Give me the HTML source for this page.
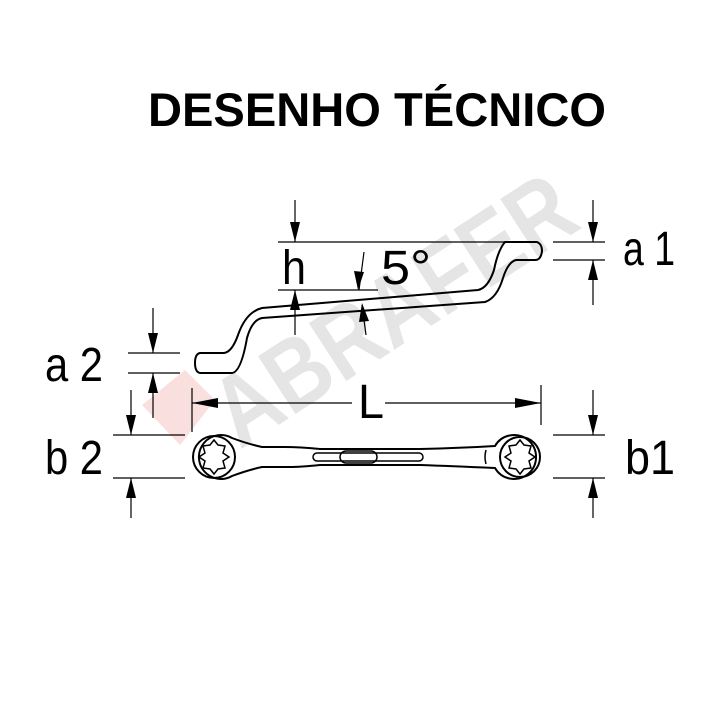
<!DOCTYPE html>
<html><head><style>body{margin:0;background:#fff}svg{display:block}</style></head>
<body>
<svg width="720" height="720" viewBox="0 0 720 720" xmlns="http://www.w3.org/2000/svg" font-family="Liberation Sans, sans-serif">
<rect width="720" height="720" fill="#fff"/>
<g opacity="0.4">
<polygon points="142,405 185,370 215,400 180,445" fill="#f3b0b0"/>
<text x="0" y="0" transform="translate(240,450) rotate(-33)" font-size="100" font-weight="bold" fill="#c0c0c0" textLength="410" lengthAdjust="spacingAndGlyphs">ABRAFER</text>
</g>
<text x="377" y="126" text-anchor="middle" font-size="47" font-weight="bold" fill="#000" textLength="458" lengthAdjust="spacingAndGlyphs">DESENHO TÉCNICO</text>
<g stroke="#000" fill="none" stroke-width="1.2">
<path stroke-width="2" d="M200,353 L224,353 Q232,352 238,335 Q246,312 262,308 L478,290 Q488,288 494,270 Q498,250 505,242 L537,242 Q542,244 542,251 Q541,260 535,260 L516,260 Q508,262 503,278 Q497,298 485,302 L262,318 Q252,320 247,338 Q241,372 232,373 L200,373 Q195,372 195,363 Q195,354 200,353 Z"/>
<line x1="278" y1="242" x2="505" y2="242"/>
<line x1="553" y1="242" x2="605" y2="242"/>
<line x1="553" y1="260" x2="605" y2="260"/>
<line x1="278" y1="290" x2="378" y2="290"/>
<line x1="295" y1="200" x2="295" y2="242"/>
<line x1="295" y1="290" x2="295" y2="335"/>
<line x1="593" y1="200" x2="593" y2="242"/>
<line x1="593" y1="260" x2="593" y2="305"/>
<line x1="364" y1="252" x2="359" y2="290"/>
<line x1="362" y1="305" x2="366" y2="335"/>
<line x1="128" y1="353" x2="180" y2="353"/>
<line x1="128" y1="373" x2="180" y2="373"/>
<line x1="153" y1="308" x2="153" y2="353"/>
<line x1="153" y1="373" x2="153" y2="418"/>
<line x1="192" y1="388" x2="192" y2="432"/>
<line x1="541" y1="385" x2="541" y2="425"/>
<line x1="192" y1="403" x2="352" y2="403"/>
<line x1="385" y1="403" x2="541" y2="403"/>
<line x1="113" y1="435" x2="185" y2="435"/>
<line x1="113" y1="478" x2="185" y2="478"/>
<line x1="553" y1="435" x2="605" y2="435"/>
<line x1="553" y1="478" x2="605" y2="478"/>
<line x1="131" y1="390" x2="131" y2="435"/>
<line x1="131" y1="478" x2="131" y2="518"/>
<line x1="593" y1="390" x2="593" y2="435"/>
<line x1="593" y1="478" x2="593" y2="518"/>
<path stroke-width="2" d="M232,438 A22,22 0 1 0 232,476 Q248,470 262,467 L290,467 Q300,467 320,465 L420,465 Q450,466 495,468 A22,22 0 1 0 495,446 Q460,448 420,449 L320,449 Q300,447 285,447 L262,447 Q248,444 232,438 Z"/>
<circle cx="214" cy="457" r="21" stroke-width="2"/>
<circle cx="520" cy="457" r="20" stroke-width="2"/>
<rect x="313" y="453" width="110" height="8" rx="4" stroke-width="1.5"/>
<rect x="340" y="451" width="37" height="12" rx="6" stroke-width="1.5"/>
<path d="M486,450 Q484,457 486,464" stroke-width="1.5"/>
</g>
<g fill="none" stroke="#000" stroke-width="1.5">
<polygon points="229,457 223,461 225,468 218,469 214,474 210,469 203,468 205,461 199,457 205,453 203,446 210,445 214,440 218,445 225,446 223,453"/>
<polygon points="535,457 529,461 531,468 524,469 520,474 516,469 509,468 511,461 505,457 511,453 509,446 516,445 520,440 524,445 531,446 529,453"/>
</g>
<g fill="#000">
<polygon points="290,222 300,222 295,242"/>
<polygon points="290,310 300,310 295,290"/>
<polygon points="588,222 598,222 593,242"/>
<polygon points="588,280 598,280 593,260"/>
<polygon points="354,271 364,272 358,290"/>
<polygon points="359,322 369,321 362,303"/>
<polygon points="148,333 158,333 153,353"/>
<polygon points="148,393 158,393 153,373"/>
<polygon points="192,403 218,398 218,408"/>
<polygon points="541,403 515,398 515,408"/>
<polygon points="126,415 136,415 131,435"/>
<polygon points="126,498 136,498 131,478"/>
<polygon points="588,415 598,415 593,435"/>
<polygon points="588,498 598,498 593,478"/>
</g>
<g font-size="48" fill="#000">
<text x="282" y="284" textLength="24" lengthAdjust="spacingAndGlyphs">h</text>
<text x="381" y="284" textLength="50" lengthAdjust="spacingAndGlyphs">5°</text>
<text x="623" y="265" textLength="52" lengthAdjust="spacingAndGlyphs">a 1</text>
<text x="45" y="381" textLength="58" lengthAdjust="spacingAndGlyphs">a 2</text>
<text x="358" y="418" textLength="26" lengthAdjust="spacingAndGlyphs">L</text>
<text x="45" y="474" textLength="58" lengthAdjust="spacingAndGlyphs">b 2</text>
<text x="625" y="474" textLength="50" lengthAdjust="spacingAndGlyphs">b1</text>
</g>
</svg>
</body></html>
